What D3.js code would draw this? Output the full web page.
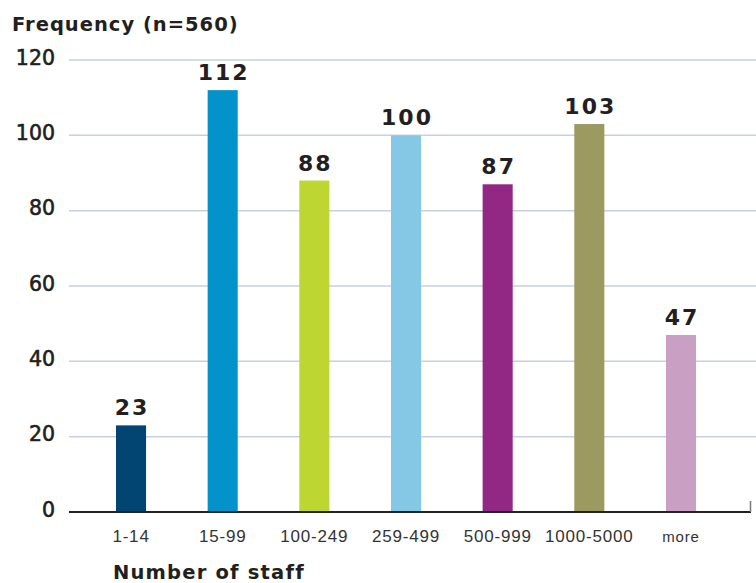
<!DOCTYPE html>
<meta charset="UTF-8">
<script src="https://d3js.org/d3.v7.min.js"></script>
<style>
  body { margin: 0; background: #fff; }
</style>
<div id="chart"></div>
<script>
  // data
  const categories = ["1-14", "15-99", "100-249", "259-499", "500-999", "1000-5000", "more"];
  const values = [23, 112, 88, 100, 87, 103, 47];
  const colors = ["#024472", "#0392ca", "#bdd631", "#84c8e6", "#922883", "#9c9a60", "#c9a0c4"];
  const yTicks = [0, 20, 40, 60, 80, 100, 120];

  const W = 756, H = 583;
  const svg = d3.select("#chart").append("svg")
    .attr("width", W)
    .attr("height", H);

  const font = "'DejaVu Sans', sans-serif";
  const ink = "#231f20";

  const y = d3.scaleLinear().domain([0, 120]).range([512, 60]);
  const x = d3.scaleBand()
    .domain(categories)
    .range([85.2, 726.8])
    .paddingInner(0.672)
    .paddingOuter(0.336);

  // gridlines
  svg.append("g")
    .selectAll("line")
    .data(yTicks.filter(d => d > 0))
    .join("line")
    .attr("x1", 69).attr("x2", W)
    .attr("y1", d => y(d)).attr("y2", d => y(d))
    .attr("stroke", "#c8cfe0")
    .attr("stroke-width", 1.5);

  // y tick labels
  svg.append("g")
    .selectAll("text")
    .data(yTicks)
    .join("text")
    .attr("x", 55)
    .attr("y", d => y(d) + 4.5)
    .attr("text-anchor", "end")
    .style("font-family", font)
    .style("font-size", "20.5px")
    .style("fill", ink)
    .style("stroke", ink)
    .style("stroke-width", 0.6)
    .text(d => d);

  // bars
  svg.append("g")
    .selectAll("rect")
    .data(values)
    .join("rect")
    .attr("x", (d, i) => x(categories[i]))
    .attr("y", d => y(d))
    .attr("width", x.bandwidth())
    .attr("height", d => y(0) - y(d))
    .attr("fill", (d, i) => colors[i]);

  // value labels
  svg.append("g")
    .selectAll("text")
    .data(values)
    .join("text")
    .attr("x", (d, i) => x(categories[i]) + x.bandwidth() / 2 + 1)
    .attr("y", d => y(d) - 10)
    .attr("text-anchor", "middle")
    .style("font-family", font)
    .style("font-weight", "bold")
    .style("font-size", "22px")
    .style("letter-spacing", "2px")
    .style("fill", ink)
    .text(d => d);

  // x axis baseline
  svg.append("line")
    .attr("x1", 69).attr("x2", 751)
    .attr("y1", y(0)).attr("y2", y(0))
    .attr("stroke", "#222")
    .attr("stroke-width", 2);
  svg.append("line")
    .attr("x1", 750.5).attr("x2", 750.5)
    .attr("y1", y(0)).attr("y2", y(0) - 11)
    .attr("stroke", "#777")
    .attr("stroke-width", 1.5);

  // x tick labels
  svg.append("g")
    .selectAll("text")
    .data(categories)
    .join("text")
    .attr("x", d => x(d) + x.bandwidth() / 2)
    .attr("y", 542)
    .attr("text-anchor", "middle")
    .style("font-family", "'Liberation Sans', Arial, sans-serif")
    .style("font-size", d => d === "more" ? "15px" : "17px")
    .style("letter-spacing", "0.8px")
    .style("fill", "#333")
    .text(d => d);

  // titles
  svg.append("text")
    .attr("x", 12)
    .attr("y", 31)
    .style("font-family", font)
    .style("font-weight", "bold")
    .style("font-size", "19.5px")
    .style("letter-spacing", "1px")
    .style("fill", ink)
    .text("Frequency (n=560)");

  svg.append("text")
    .attr("x", 113)
    .attr("y", 579)
    .style("font-family", font)
    .style("font-weight", "bold")
    .style("font-size", "19.5px")
    .style("letter-spacing", "1.2px")
    .style("fill", ink)
    .text("Number of staff");
</script>
